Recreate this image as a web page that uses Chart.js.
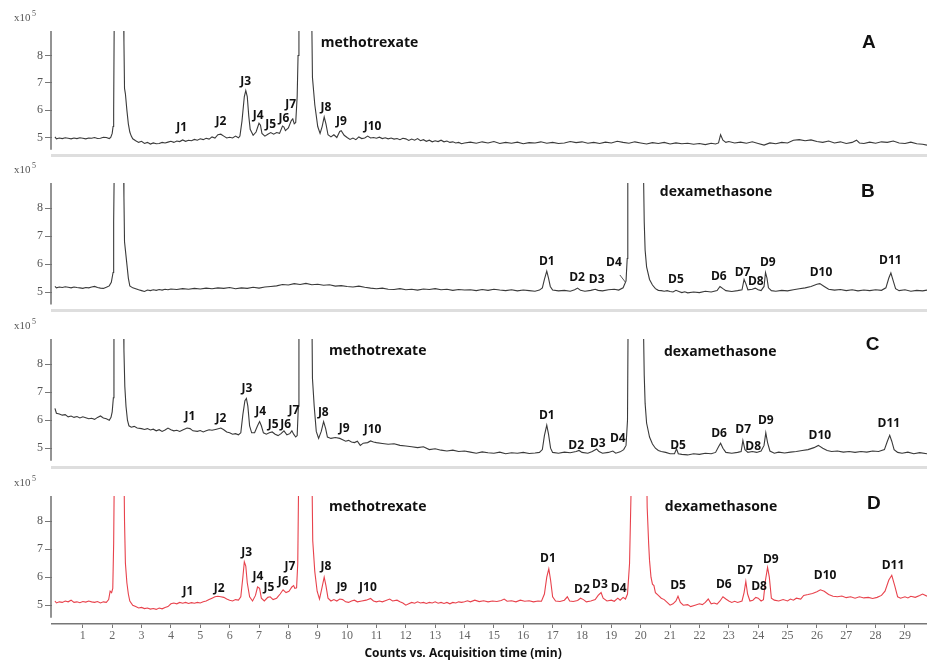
<!DOCTYPE html>
<html>
<head>
<meta charset="utf-8">
<script src="https://cdn.jsdelivr.net/npm/chart.js@4.4.1/dist/chart.umd.min.js"></script>
<style>
  html, body { margin: 0; padding: 0; background: #fff; }
  #wrap { position: relative; width: 927px; height: 661px; overflow: hidden; }
  #wrap canvas { position: absolute; left: 0; }
</style>
</head>
<body>
<div id="wrap">
  <canvas id="panelA" width="927" height="165" style="top:0px"></canvas>
  <canvas id="panelB" width="927" height="160" style="top:160px"></canvas>
  <canvas id="panelC" width="927" height="162" style="top:315px"></canvas>
  <canvas id="panelD" width="927" height="189" style="top:472px"></canvas>
</div>
<script>
const timeTicks = [1,2,3,4,5,6,7,8,9,10,11,12,13,14,15,16,17,18,19,20,21,22,23,24,25,26,27,28,29];
const countTicks = [5, 6, 7, 8];

const traceA = [
  [0.05,5.02],[0.1,4.95],[0.2,4.98],[0.3,4.96],[0.4,4.99],[0.5,4.97],[0.6,4.95],[0.7,4.98],[0.8,4.96],[0.9,4.99],
  [1.0,4.97],[1.1,4.95],[1.2,4.98],[1.3,4.97],[1.4,5.0],[1.5,4.96],[1.6,4.97],[1.7,5.01],[1.8,5.0],[1.9,4.96],
  [1.95,5.0],[2.0,5.15],[2.03,5.4],[2.05,6.0],[2.07,9.5],[2.2,12],[2.38,10],[2.4,8.5],[2.42,6.8],[2.45,6.6],
  [2.5,6.0],[2.55,5.5],[2.6,5.2],[2.65,5.05],[2.7,4.95],[2.8,4.88],[2.9,4.82],[3.0,4.86],[3.1,4.78],[3.2,4.82],
  [3.3,4.76],[3.4,4.8],[3.5,4.77],[3.6,4.78],[3.7,4.82],[3.8,4.8],[3.9,4.83],[4.0,4.86],[4.1,4.82],[4.2,4.87],
  [4.3,4.85],[4.4,4.91],[4.5,4.86],[4.6,4.9],[4.7,4.88],[4.8,4.93],[4.9,4.9],[5.0,4.95],[5.1,4.92],[5.2,4.97],
  [5.3,4.94],[5.4,5.02],[5.5,4.98],[5.6,5.1],[5.7,5.12],[5.8,5.05],[5.9,4.98],[6.0,5.01],[6.1,4.98],[6.2,5.05],
  [6.3,4.99],[6.35,5.05],[6.42,5.6],[6.5,6.5],[6.55,6.72],[6.6,6.5],[6.65,5.8],[6.7,5.3],[6.8,5.08],[6.9,5.2],
  [7.0,5.52],[7.05,5.45],[7.1,5.15],[7.2,5.05],[7.3,5.12],[7.4,5.18],[7.5,5.12],[7.6,5.18],[7.7,5.15],[7.8,5.42],
  [7.85,5.38],[7.9,5.25],[8.0,5.35],[8.1,5.62],[8.15,5.68],[8.2,5.5],[8.25,5.55],[8.3,6.5],[8.33,8.0],[8.36,9.5],
  [8.6,14],[8.79,10],[8.82,7.2],[8.9,6.2],[9.0,5.4],[9.08,5.15],[9.15,5.4],[9.22,5.75],[9.28,5.5],[9.35,5.1],
  [9.45,5.02],[9.55,5.1],[9.65,5.0],[9.75,5.22],[9.8,5.25],[9.9,5.08],[10.0,5.0],[10.1,4.93],[10.2,4.98],[10.3,4.92],
  [10.4,5.02],[10.5,4.96],[10.6,4.98],[10.7,5.05],[10.8,4.98],[10.9,5.0],[11.0,4.97],[11.1,5.01],[11.2,4.96],[11.3,4.99],
  [11.4,4.95],[11.5,4.98],[11.6,4.94],[11.7,4.96],[11.8,4.92],[11.9,4.97],[12.0,4.95],[12.1,4.89],[12.2,4.94],[12.3,4.9],
  [12.4,4.96],[12.5,4.88],[12.6,4.92],[12.7,4.86],[12.8,4.9],[12.9,4.84],[13.0,4.88],[13.1,4.85],[13.2,4.9],[13.3,4.84],
  [13.4,4.87],[13.5,4.82],[13.6,4.84],[13.7,4.8],[13.8,4.82],[13.9,4.77],[14.0,4.8],[14.2,4.83],[14.4,4.79],[14.6,4.84],
  [14.8,4.8],[15.0,4.85],[15.2,4.78],[15.4,4.82],[15.6,4.79],[15.8,4.83],[16.0,4.77],[16.2,4.81],[16.4,4.8],[16.6,4.84],
  [16.8,4.79],[17.0,4.82],[17.2,4.78],[17.4,4.8],[17.6,4.85],[17.8,4.81],[18.0,4.84],[18.2,4.79],[18.4,4.82],[18.6,4.78],
  [18.8,4.83],[19.0,4.8],[19.2,4.86],[19.4,4.82],[19.6,4.79],[19.8,4.84],[20.0,4.8],[20.2,4.76],[20.4,4.81],[20.6,4.78],
  [20.8,4.82],[21.0,4.76],[21.2,4.8],[21.4,4.77],[21.6,4.79],[21.8,4.75],[22.0,4.78],[22.2,4.74],[22.4,4.79],[22.55,4.76],
  [22.65,4.8],[22.72,5.1],[22.8,4.9],[22.9,4.82],[23.0,4.85],[23.2,4.8],[23.4,4.83],[23.6,4.79],[23.8,4.84],[24.0,4.78],
  [24.2,4.72],[24.4,4.8],[24.6,4.77],[24.8,4.82],[25.0,4.8],[25.2,4.9],[25.4,4.92],[25.6,4.88],[25.8,4.91],[26.0,4.85],
  [26.2,4.82],[26.4,4.87],[26.6,4.8],[26.8,4.84],[27.0,4.78],[27.2,4.82],[27.35,4.9],[27.45,4.8],[27.6,4.78],[27.8,4.83],
  [28.0,4.79],[28.2,4.84],[28.4,4.82],[28.6,4.87],[28.8,4.8],[29.0,4.78],[29.2,4.83],[29.4,4.77],[29.6,4.75],[29.75,4.72]
];

const traceB = [
  [0.05,5.2],[0.1,5.15],[0.2,5.18],[0.3,5.16],[0.4,5.19],[0.5,5.17],[0.6,5.15],[0.7,5.18],[0.8,5.16],[0.9,5.15],
  [1.0,5.13],[1.1,5.16],[1.2,5.15],[1.3,5.18],[1.4,5.2],[1.5,5.16],[1.6,5.14],[1.7,5.13],[1.8,5.17],[1.9,5.22],
  [1.97,5.35],[2.03,5.7],[2.05,7.5],[2.07,9.5],[2.2,12],[2.38,10],[2.4,8.4],[2.42,6.8],[2.45,6.5],[2.5,6.0],
  [2.55,5.5],[2.6,5.22],[2.7,5.15],[2.8,5.12],[2.9,5.08],[3.0,5.05],[3.1,5.02],[3.2,5.07],[3.3,5.05],[3.4,5.08],
  [3.5,5.06],[3.6,5.09],[3.7,5.07],[3.8,5.1],[3.9,5.08],[4.0,5.11],[4.2,5.09],[4.4,5.12],[4.6,5.1],[4.8,5.13],
  [5.0,5.11],[5.2,5.14],[5.4,5.12],[5.6,5.15],[5.8,5.13],[6.0,5.16],[6.2,5.12],[6.4,5.15],[6.6,5.13],[6.8,5.17],
  [7.0,5.14],[7.2,5.18],[7.4,5.2],[7.6,5.22],[7.8,5.27],[8.0,5.25],[8.2,5.3],[8.4,5.27],[8.6,5.31],[8.8,5.26],
  [9.0,5.28],[9.2,5.24],[9.4,5.26],[9.6,5.21],[9.8,5.23],[10.0,5.2],[10.2,5.18],[10.4,5.21],[10.6,5.17],[10.8,5.14],
  [11.0,5.12],[11.2,5.14],[11.4,5.1],[11.6,5.09],[11.8,5.12],[12.0,5.08],[12.2,5.1],[12.4,5.07],[12.6,5.11],[12.8,5.09],
  [13.0,5.12],[13.2,5.08],[13.4,5.1],[13.6,5.06],[13.8,5.09],[14.0,5.07],[14.2,5.08],[14.4,5.05],[14.6,5.09],[14.8,5.06],
  [15.0,5.1],[15.2,5.07],[15.4,5.05],[15.6,5.08],[15.8,5.04],[16.0,5.07],[16.2,5.05],[16.4,5.03],[16.55,5.07],[16.65,5.15],
  [16.72,5.45],[16.8,5.75],[16.86,5.5],[16.92,5.2],[17.0,5.07],[17.2,5.04],[17.4,5.06],[17.6,5.03],[17.75,5.08],[17.85,5.14],
  [17.95,5.06],[18.1,5.03],[18.3,5.06],[18.45,5.1],[18.55,5.06],[18.7,5.04],[18.9,5.08],[19.1,5.1],[19.25,5.07],[19.4,5.15],
  [19.5,5.4],[19.54,6.2],[19.56,9.5],[19.8,15],[20.08,10],[20.1,8.9],[20.12,7.5],[20.15,6.5],[20.2,5.9],[20.3,5.45],
  [20.4,5.25],[20.5,5.12],[20.6,5.06],[20.7,5.05],[20.8,5.03],[20.9,5.05],[21.0,5.02],[21.1,5.0],[21.2,5.06],[21.3,5.02],
  [21.4,4.98],[21.5,5.01],[21.6,4.97],[21.8,5.0],[22.0,4.98],[22.2,5.03],[22.4,5.0],[22.6,5.05],[22.7,5.2],[22.8,5.12],
  [22.9,5.05],[23.1,5.02],[23.3,5.05],[23.45,5.08],[23.52,5.45],[23.58,5.3],[23.65,5.08],[23.8,5.1],[23.9,5.14],[24.0,5.08],
  [24.1,5.05],[24.2,5.2],[24.25,5.7],[24.3,5.5],[24.35,5.15],[24.45,5.05],[24.6,5.03],[24.8,5.06],[25.0,5.04],[25.2,5.08],
  [25.4,5.12],[25.6,5.15],[25.8,5.2],[26.0,5.28],[26.1,5.3],[26.25,5.2],[26.4,5.1],[26.6,5.07],[26.8,5.09],[27.0,5.05],
  [27.2,5.08],[27.4,5.04],[27.6,5.07],[27.8,5.05],[28.0,5.08],[28.2,5.06],[28.35,5.15],[28.45,5.5],[28.52,5.68],[28.6,5.4],
  [28.68,5.12],[28.8,5.05],[29.0,5.08],[29.2,5.03],[29.4,5.06],[29.6,5.04],[29.75,5.07]
];

const traceC = [
  [0.05,6.42],[0.1,6.25],[0.2,6.22],[0.3,6.18],[0.4,6.2],[0.5,6.12],[0.6,6.15],[0.7,6.1],[0.8,6.13],[0.9,6.08],
  [1.0,6.12],[1.1,6.09],[1.2,6.05],[1.3,6.07],[1.4,6.03],[1.5,6.1],[1.6,6.15],[1.7,6.08],[1.8,6.05],[1.9,6.0],
  [1.96,6.1],[2.0,6.3],[2.04,6.8],[2.06,9.5],[2.2,12],[2.38,10],[2.4,8.5],[2.43,7.2],[2.47,6.5],[2.52,6.0],
  [2.57,5.8],[2.65,5.75],[2.75,5.78],[2.85,5.72],[3.0,5.7],[3.1,5.67],[3.2,5.7],[3.3,5.65],[3.4,5.68],[3.5,5.62],
  [3.6,5.66],[3.7,5.6],[3.8,5.65],[3.9,5.72],[4.0,5.66],[4.1,5.62],[4.2,5.64],[4.3,5.6],[4.4,5.65],[4.55,5.72],
  [4.65,5.7],[4.75,5.62],[4.9,5.6],[5.0,5.63],[5.1,5.58],[5.2,5.62],[5.3,5.66],[5.4,5.64],[5.55,5.68],[5.7,5.72],
  [5.8,5.66],[5.9,5.58],[6.0,5.55],[6.1,5.5],[6.2,5.52],[6.3,5.48],[6.38,5.55],[6.45,6.2],[6.52,6.7],[6.57,6.78],
  [6.62,6.5],[6.68,5.8],[6.75,5.55],[6.85,5.55],[6.95,5.8],[7.02,5.95],[7.08,5.8],[7.15,5.55],[7.25,5.5],[7.35,5.55],
  [7.45,5.58],[7.55,5.5],[7.65,5.45],[7.75,5.52],[7.85,5.62],[7.95,5.48],[8.05,5.52],[8.12,5.62],[8.18,5.5],[8.25,5.4],
  [8.3,5.45],[8.34,6.5],[8.36,9.5],[8.6,14],[8.8,10],[8.82,7.5],[8.88,6.5],[8.95,5.6],[9.03,5.35],[9.12,5.6],
  [9.2,5.95],[9.27,5.7],[9.33,5.4],[9.45,5.35],[9.6,5.38],[9.75,5.35],[9.85,5.3],[9.95,5.25],[10.05,5.28],[10.15,5.22],
  [10.25,5.2],[10.35,5.25],[10.45,5.1],[10.55,5.18],[10.7,5.2],[10.8,5.26],[10.9,5.22],[11.0,5.2],[11.2,5.17],[11.4,5.14],
  [11.6,5.16],[11.8,5.1],[12.0,5.08],[12.2,5.05],[12.4,5.02],[12.6,5.05],[12.8,4.95],[13.0,4.98],[13.2,4.93],[13.4,4.9],
  [13.6,4.93],[13.8,4.88],[14.0,4.9],[14.2,4.86],[14.4,4.82],[14.6,4.87],[14.8,4.84],[15.0,4.82],[15.2,4.86],[15.4,4.8],
  [15.6,4.84],[15.8,4.82],[16.0,4.85],[16.2,4.81],[16.4,4.83],[16.55,4.85],[16.65,4.95],[16.72,5.45],[16.8,5.82],[16.86,5.5],
  [16.93,5.0],[17.0,4.85],[17.2,4.82],[17.4,4.86],[17.6,4.84],[17.8,4.88],[17.9,4.92],[18.0,4.85],[18.2,4.82],[18.35,4.88],
  [18.5,4.97],[18.58,4.88],[18.7,4.82],[18.9,4.85],[19.05,4.9],[19.15,4.82],[19.3,4.87],[19.42,4.95],[19.5,5.1],[19.55,6.0],
  [19.57,9.5],[19.8,15],[20.08,10],[20.1,8.9],[20.12,7.6],[20.15,6.6],[20.2,5.9],[20.3,5.4],[20.4,5.15],[20.5,5.0],
  [20.6,4.92],[20.7,4.88],[20.85,4.85],[21.0,4.8],[21.15,4.8],[21.22,4.98],[21.28,4.8],[21.4,4.78],[21.6,4.76],[21.8,4.8],
  [22.0,4.78],[22.2,4.82],[22.4,4.8],[22.55,4.85],[22.65,5.05],[22.72,5.18],[22.8,5.0],[22.9,4.85],[23.1,4.82],[23.3,4.85],
  [23.42,4.88],[23.48,5.28],[23.55,4.95],[23.65,4.85],[23.8,4.88],[23.95,4.85],[24.1,4.9],[24.2,5.1],[24.26,5.55],[24.32,5.2],
  [24.4,4.9],[24.55,4.82],[24.7,4.86],[24.9,4.83],[25.1,4.86],[25.3,4.88],[25.5,4.92],[25.7,4.95],[25.9,5.02],[26.05,5.1],
  [26.2,5.0],[26.35,4.92],[26.5,4.88],[26.7,4.9],[26.9,4.86],[27.1,4.88],[27.3,4.85],[27.5,4.88],[27.7,4.86],[27.9,4.9],
  [28.1,4.88],[28.3,4.95],[28.4,5.25],[28.48,5.46],[28.55,5.25],[28.63,4.95],[28.75,4.85],[28.9,4.82],[29.1,4.86],[29.3,4.8],
  [29.5,4.84],[29.75,4.8]
];

const traceD = [
  [0.05,5.15],[0.1,5.08],[0.2,5.12],[0.3,5.1],[0.4,5.15],[0.5,5.12],[0.6,5.18],[0.7,5.1],[0.8,5.12],[0.9,5.09],
  [1.0,5.13],[1.1,5.11],[1.2,5.15],[1.3,5.12],[1.4,5.1],[1.5,5.13],[1.6,5.08],[1.7,5.12],[1.8,5.1],[1.88,5.2],
  [1.93,5.5],[1.98,5.45],[2.02,5.6],[2.05,7.2],[2.07,9.5],[2.2,12],[2.4,10],[2.42,8.0],[2.45,6.5],[2.5,5.8],
  [2.55,5.4],[2.6,5.15],[2.7,5.0],[2.8,4.95],[2.9,4.9],[3.0,4.92],[3.1,4.88],[3.2,4.9],[3.3,4.86],[3.4,4.88],
  [3.5,4.85],[3.6,4.9],[3.7,4.87],[3.8,4.92],[3.9,4.95],[4.0,5.05],[4.1,5.08],[4.2,5.05],[4.3,5.1],[4.4,5.07],
  [4.5,5.1],[4.6,5.06],[4.7,5.09],[4.8,5.07],[4.9,5.1],[5.0,5.08],[5.1,5.12],[5.2,5.15],[5.3,5.2],[5.4,5.25],
  [5.5,5.3],[5.6,5.32],[5.7,5.3],[5.8,5.28],[5.9,5.22],[6.0,5.18],[6.1,5.15],[6.2,5.2],[6.3,5.18],[6.38,5.3],
  [6.45,6.0],[6.5,6.55],[6.55,6.4],[6.6,5.8],[6.68,5.3],[6.78,5.15],[6.88,5.35],[6.95,5.65],[7.02,5.6],[7.08,5.25],
  [7.18,5.15],[7.3,5.28],[7.38,5.3],[7.48,5.2],[7.6,5.25],[7.72,5.4],[7.82,5.55],[7.92,5.45],[8.02,5.5],[8.12,5.65],
  [8.18,5.7],[8.22,5.6],[8.28,5.62],[8.32,6.5],[8.35,9.5],[8.6,14],[8.8,10],[8.83,7.3],[8.9,6.2],[8.98,5.5],
  [9.06,5.22],[9.14,5.6],[9.22,6.0],[9.28,5.7],[9.35,5.25],[9.45,5.15],[9.55,5.2],[9.65,5.15],[9.75,5.22],[9.85,5.2],
  [9.95,5.12],[10.05,5.1],[10.15,5.15],[10.25,5.18],[10.35,5.12],[10.5,5.15],[10.65,5.18],[10.8,5.24],[10.9,5.15],[11.0,5.12],
  [11.1,5.15],[11.2,5.12],[11.3,5.16],[11.45,5.22],[11.55,5.15],[11.7,5.18],[11.8,5.12],[11.9,5.08],[12.0,5.0],[12.1,5.05],
  [12.2,5.1],[12.3,5.07],[12.4,5.12],[12.5,5.08],[12.6,5.1],[12.7,5.06],[12.8,5.1],[12.9,5.08],[13.0,5.12],[13.1,5.07],
  [13.2,5.1],[13.3,5.06],[13.4,5.1],[13.5,5.05],[13.6,5.1],[13.7,5.08],[13.8,5.12],[13.9,5.1],[14.0,5.12],[14.1,5.16],
  [14.2,5.12],[14.35,5.18],[14.5,5.13],[14.65,5.16],[14.8,5.12],[14.95,5.15],[15.1,5.13],[15.25,5.17],[15.35,5.22],[15.45,5.14],
  [15.6,5.16],[15.75,5.12],[15.9,5.18],[16.05,5.14],[16.2,5.16],[16.35,5.12],[16.5,5.15],[16.62,5.14],[16.72,5.4],[16.8,6.0],
  [16.87,6.3],[16.93,5.9],[17.0,5.3],[17.1,5.15],[17.25,5.13],[17.4,5.18],[17.5,5.3],[17.58,5.15],[17.7,5.13],[17.85,5.17],
  [17.95,5.25],[18.05,5.2],[18.15,5.12],[18.3,5.15],[18.45,5.2],[18.55,5.35],[18.65,5.45],[18.72,5.25],[18.85,5.15],[19.0,5.18],
  [19.1,5.14],[19.22,5.25],[19.3,5.18],[19.4,5.28],[19.48,5.22],[19.55,5.4],[19.62,6.5],[19.68,9.5],[19.9,15],[20.2,10],
  [20.22,8.5],[20.27,7.2],[20.3,6.6],[20.35,6.0],[20.4,5.75],[20.45,5.7],[20.5,5.45],[20.6,5.35],[20.7,5.25],[20.8,5.2],
  [20.9,5.1],[21.0,5.0],[21.1,5.05],[21.2,5.15],[21.27,5.32],[21.35,5.1],[21.45,5.0],[21.6,5.02],[21.7,4.95],[21.85,5.0],
  [22.0,5.05],[22.1,5.02],[22.2,5.1],[22.3,5.22],[22.4,5.05],[22.5,5.08],[22.6,5.04],[22.7,5.15],[22.8,5.3],[22.9,5.22],
  [23.0,5.15],[23.1,5.1],[23.2,5.14],[23.3,5.1],[23.45,5.15],[23.52,5.45],[23.58,5.85],[23.64,5.4],[23.72,5.15],[23.82,5.18],
  [23.92,5.28],[24.0,5.25],[24.1,5.15],[24.18,5.2],[24.25,5.9],[24.32,6.35],[24.38,6.0],[24.45,5.25],[24.55,5.18],[24.7,5.15],
  [24.85,5.2],[25.0,5.15],[25.1,5.22],[25.2,5.18],[25.3,5.25],[25.45,5.22],[25.55,5.35],[25.7,5.38],[25.85,5.42],[26.0,5.48],
  [26.12,5.55],[26.25,5.5],[26.4,5.38],[26.55,5.32],[26.7,5.3],[26.85,5.33],[27.0,5.27],[27.15,5.3],[27.3,5.25],[27.45,5.3],
  [27.6,5.26],[27.75,5.28],[27.9,5.24],[28.05,5.28],[28.2,5.35],[28.32,5.5],[28.45,5.9],[28.55,6.07],[28.65,5.7],[28.75,5.3],
  [28.85,5.25],[29.0,5.3],[29.1,5.26],[29.2,5.32],[29.35,5.28],[29.5,5.35],[29.6,5.4],[29.75,5.32]
];

// Rótulos dos picos: [texto, tempo, contagem]
const peaksA = [['J1',4.37,5.36],['J2',5.7,5.57],['J3',6.55,7.04],['J4',6.97,5.82],['J5',7.4,5.46],['J6',7.85,5.68],
  ['J7',8.08,6.21],['J8',9.28,6.1],['J9',9.81,5.57],['J10',10.87,5.39]];
const peaksB = [['D1',16.8,6.1],['D2',17.83,5.5],['D3',18.5,5.43],['D4',19.09,6.04],['D5',21.2,5.43],['D6',22.66,5.54],
  ['D7',23.47,5.71],['D8',23.92,5.39],['D9',24.33,6.04],['D10',26.14,5.71],['D11',28.5,6.11]];
const peaksC = [['J1',4.65,6.14],['J2',5.7,6.07],['J3',6.59,7.14],['J4',7.06,6.32],['J5',7.48,5.86],['J6',7.91,5.86],
  ['J7',8.19,6.36],['J8',9.19,6.29],['J9',9.9,5.71],['J10',10.87,5.68],
  ['D1',16.8,6.18],['D2',17.8,5.11],['D3',18.54,5.18],['D4',19.22,5.36],['D5',21.27,5.11],['D6',22.67,5.54],
  ['D7',23.49,5.68],['D8',23.83,5.07],['D9',24.26,6.0],['D10',26.1,5.46],['D11',28.45,5.89]];
const peaksD = [['J1',4.58,5.5],['J2',5.64,5.61],['J3',6.58,6.89],['J4',6.96,6.04],['J5',7.34,5.64],['J6',7.82,5.86],
  ['J7',8.05,6.39],['J8',9.28,6.39],['J9',9.82,5.64],['J10',10.71,5.64],
  ['D1',16.84,6.68],['D2',18.0,5.57],['D3',18.61,5.75],['D4',19.25,5.61],['D5',21.27,5.71],['D6',22.83,5.75],
  ['D7',23.55,6.25],['D8',24.03,5.68],['D9',24.43,6.64],['D10',26.28,6.07],['D11',28.59,6.43]];

const compoundsA = [['methotrexate',9.1,8.46]];
const compoundsB = [['dexamethasone',20.65,8.57]];
const compoundsC = [['methotrexate',9.38,8.46],['dexamethasone',20.79,8.43]];
const compoundsD = [['methotrexate',9.38,8.5],['dexamethasone',20.82,8.5]];

const panelLetters = [['A',27.77,8.46],['B',27.74,8.57],['C',27.9,8.68],['D',27.94,8.64]];

const xTitle = 'Counts vs. Acquisition time (min)';

const yMax = 8.9;
const yMin = 8.9 - 128 / 28;

// Plugin que desenha eixo Y, rótulos dos picos e textos
const anotacoes = {
  id: 'anotacoes',
  afterDatasetsDraw(chart, args, opts) {
    const ctx = chart.ctx;
    const x = chart.scales.x, y = chart.scales.y;
    const area = chart.chartArea;
    ctx.save();
    // eixo vertical
    ctx.strokeStyle = '#6f6f6f';
    ctx.lineWidth = 1.5;
    ctx.beginPath();
    ctx.moveTo(area.left - 1, area.top);
    ctx.lineTo(area.left - 1, y.getPixelForValue(4.55));
    ctx.stroke();

    // x10^5
    ctx.fillStyle = '#555';
    ctx.textBaseline = 'middle';
    ctx.textAlign = 'left';
    ctx.font = '11px "Liberation Serif"';
    ctx.fillText('x10', 14, area.top - 13);
    ctx.font = '8px "Liberation Serif"';
    ctx.fillText('5', 32, area.top - 17);

    ctx.fillStyle = '#111';
    ctx.textAlign = 'center';
    ctx.font = 'bold 12px "Open Sans"';
    opts.peaks.forEach(p => {
      ctx.fillText(p[0], x.getPixelForValue(p[1]), y.getPixelForValue(p[2]));
    });
    ctx.textAlign = 'left';
    ctx.font = 'bold 14px "Open Sans"';
    opts.compounds.forEach(c => {
      ctx.fillText(c[0], x.getPixelForValue(c[1]), y.getPixelForValue(c[2]));
    });
    ctx.textAlign = 'center';
    ctx.font = 'bold 19px "Liberation Sans"';
    const l = opts.letter;
    ctx.fillText(l[0], x.getPixelForValue(l[1]), y.getPixelForValue(l[2]));

    if (opts.leader) {
      ctx.strokeStyle = '#555';
      ctx.lineWidth = 1;
      ctx.beginPath();
      ctx.moveTo(x.getPixelForValue(19.29), y.getPixelForValue(5.61));
      ctx.lineTo(x.getPixelForValue(19.48), y.getPixelForValue(5.35));
      ctx.stroke();
    }
    if (opts.showTitle) {
      ctx.fillStyle = '#111';
      ctx.font = 'bold 12px "Open Sans"';
      ctx.textAlign = 'center';
      ctx.fillText(xTitle, x.getPixelForValue(13.95), chart.height - 7);
    }
    ctx.restore();
  }
};

function criarPainel(id, trace, cor, peaks, compounds, letter, padTop, xHeight, showTime, leader) {
  const ctx = document.getElementById(id).getContext('2d');
  return new Chart(ctx, {
    type: 'line',
    data: {
      datasets: [{
        data: trace.map(p => ({ x: p[0], y: p[1] })),
        borderColor: cor,
        borderWidth: 1.1,
        pointRadius: 0,
        tension: 0,
        fill: false
      }]
    },
    options: {
      responsive: false,
      animation: false,
      devicePixelRatio: 1,
      layout: { padding: { top: padTop, left: 0, right: 0, bottom: 0 } },
      plugins: {
        legend: { display: false },
        tooltip: { enabled: false },
        anotacoes: { peaks: peaks, compounds: compounds, letter: letter, leader: leader, showTitle: showTime }
      },
      scales: {
        x: {
          type: 'linear',
          min: -0.05,
          max: 29.75,
          afterFit: s => { s.height = xHeight; },
          afterBuildTicks: s => { s.ticks = timeTicks.map(v => ({ value: v })); },
          grid: { display: showTime, drawOnChartArea: false, drawTicks: true, tickLength: 4, color: '#777' },
          border: showTime ? { display: true, color: '#777', width: 1.5 } : { display: true, color: '#dedede', width: 3 },
          ticks: {
            display: showTime,
            padding: 1,
            maxRotation: 0,
            autoSkip: false,
            color: '#666',
            font: { family: 'Liberation Serif', size: 12 }
          }
        },
        y: {
          type: 'linear',
          min: yMin,
          max: yMax,
          afterFit: s => { s.width = 52; },
          afterBuildTicks: s => { s.ticks = countTicks.map(v => ({ value: v })); },
          grid: { drawOnChartArea: false, drawTicks: true, tickLength: 7, color: '#777' },
          border: { display: false },
          ticks: {
            padding: 2,
            color: '#555',
            font: { family: 'Liberation Serif', size: 12 }
          }
        }
      }
    },
    plugins: [anotacoes]
  });
}

document.addEventListener('DOMContentLoaded', () => {
  criarPainel('panelA', traceA, '#3a3a3a', peaksA, compoundsA, panelLetters[0], 31, 6, false, false);
  criarPainel('panelB', traceB, '#3a3a3a', peaksB, compoundsB, panelLetters[1], 23, 9, false, true);
  criarPainel('panelC', traceC, '#3a3a3a', peaksC, compoundsC, panelLetters[2], 24, 10, false, false);
  criarPainel('panelD', traceD, '#e8424c', peaksD, compoundsD, panelLetters[3], 24, 37, true, false);
});
</script>
</body>
</html>
